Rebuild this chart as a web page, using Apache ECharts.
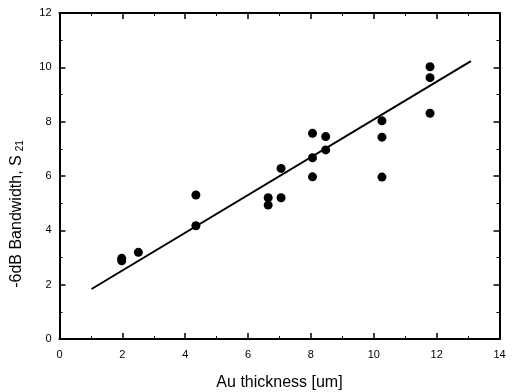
<!DOCTYPE html>
<html><head><meta charset="utf-8">
<script src="https://cdn.jsdelivr.net/npm/echarts@6/dist/echarts.min.js"></script>
<style>html,body{margin:0;padding:0;background:#fff}#c{width:512px;height:392px}</style>
</head><body><div id="c"></div>
<script>
var xTicks = [0, 2, 4, 6, 8, 10, 12, 14];
var yTicks = [0, 2, 4, 6, 8, 10, 12];
var thickness = [1.98, 1.98, 2.51, 4.34, 4.34, 6.64, 6.64, 7.05, 7.05, 8.05, 8.05, 8.05, 8.47, 8.47, 10.26, 10.26, 10.26, 11.79, 11.79, 11.79];
var bandwidth = [2.97, 2.88, 3.19, 5.30, 4.17, 5.20, 4.93, 6.28, 5.20, 7.57, 6.67, 5.97, 7.45, 6.96, 8.03, 7.43, 5.96, 10.02, 9.62, 8.31];
var fitX = [1.02, 13.09];
var fitY = [1.84, 10.23];

var pts = thickness.map(function (x, i) { return [x, bandwidth[i]]; });
var fit = fitX.map(function (x, i) { return [x, fitY[i]]; });

var lblFont = '"Liberation Sans Narrow", "Liberation Sans", Arial, sans-serif';
var nameFont = 'Arial, "Liberation Sans", sans-serif';
function axisCommon(extra) {
  var o = {
    type: 'value',
    axisLine: { show: true, onZero: false, lineStyle: { color: '#000', width: 2 } },
    axisTick: { show: true, inside: true, length: 6, lineStyle: { color: '#000', width: 1.5 } },
    minorTick: { show: true, splitNumber: 2, length: 3, lineStyle: { color: '#000', width: 1 } },
    splitLine: { show: false },
    axisLabel: { color: '#000', fontSize: 11, fontFamily: lblFont }
  };
  for (var k in extra) o[k] = extra[k];
  return o;
}

var chart = echarts.init(document.getElementById('c'), null, { renderer: 'canvas' });
chart.setOption({
  animation: false,
  backgroundColor: '#fff',
  grid: { left: 59.5, right: 12.5, top: 13, bottom: 53, containLabel: false, outerBoundsMode: 'none' },
  xAxis: [
    axisCommon({ min: xTicks[0], max: xTicks[xTicks.length - 1], interval: 2, position: 'bottom',
      name: 'Au thickness [um]', nameLocation: 'middle', nameGap: 36,
      nameTextStyle: { color: '#000', fontSize: 16, fontFamily: nameFont },
      axisLabel: { color: '#000', fontSize: 11, fontFamily: lblFont, margin: 10 } }),
    axisCommon({ min: xTicks[0], max: xTicks[xTicks.length - 1], interval: 2, position: 'top',
      axisLabel: { show: false } })
  ],
  yAxis: [
    axisCommon({ min: yTicks[0], max: yTicks[yTicks.length - 1], interval: 2, position: 'left',
      name: '-6dB Bandwidth, S{sub|21}', nameLocation: 'middle', nameGap: 34,
      nameTextStyle: { color: '#000', fontSize: 16, fontFamily: nameFont, padding: [0, 76, 0, 0],
        rich: { sub: { fontSize: 10, color: '#000', verticalAlign: 'bottom', padding: [8, 0, 0, 4], fontFamily: nameFont } } },
      axisLabel: { color: '#000', fontSize: 11, fontFamily: lblFont, margin: 8 } }),
    axisCommon({ min: yTicks[0], max: yTicks[yTicks.length - 1], interval: 2, position: 'right',
      axisLabel: { show: false } })
  ],
  series: [
    { type: 'line', data: fit, xAxisIndex: 0, yAxisIndex: 0, showSymbol: false, symbol: 'none',
      lineStyle: { color: '#000', width: 2 }, z: 2 },
    { type: 'scatter', data: pts, xAxisIndex: 0, yAxisIndex: 0, symbol: 'circle', symbolSize: 9,
      itemStyle: { color: '#000', opacity: 1 }, z: 3 }
  ]
});
</script></body></html>
